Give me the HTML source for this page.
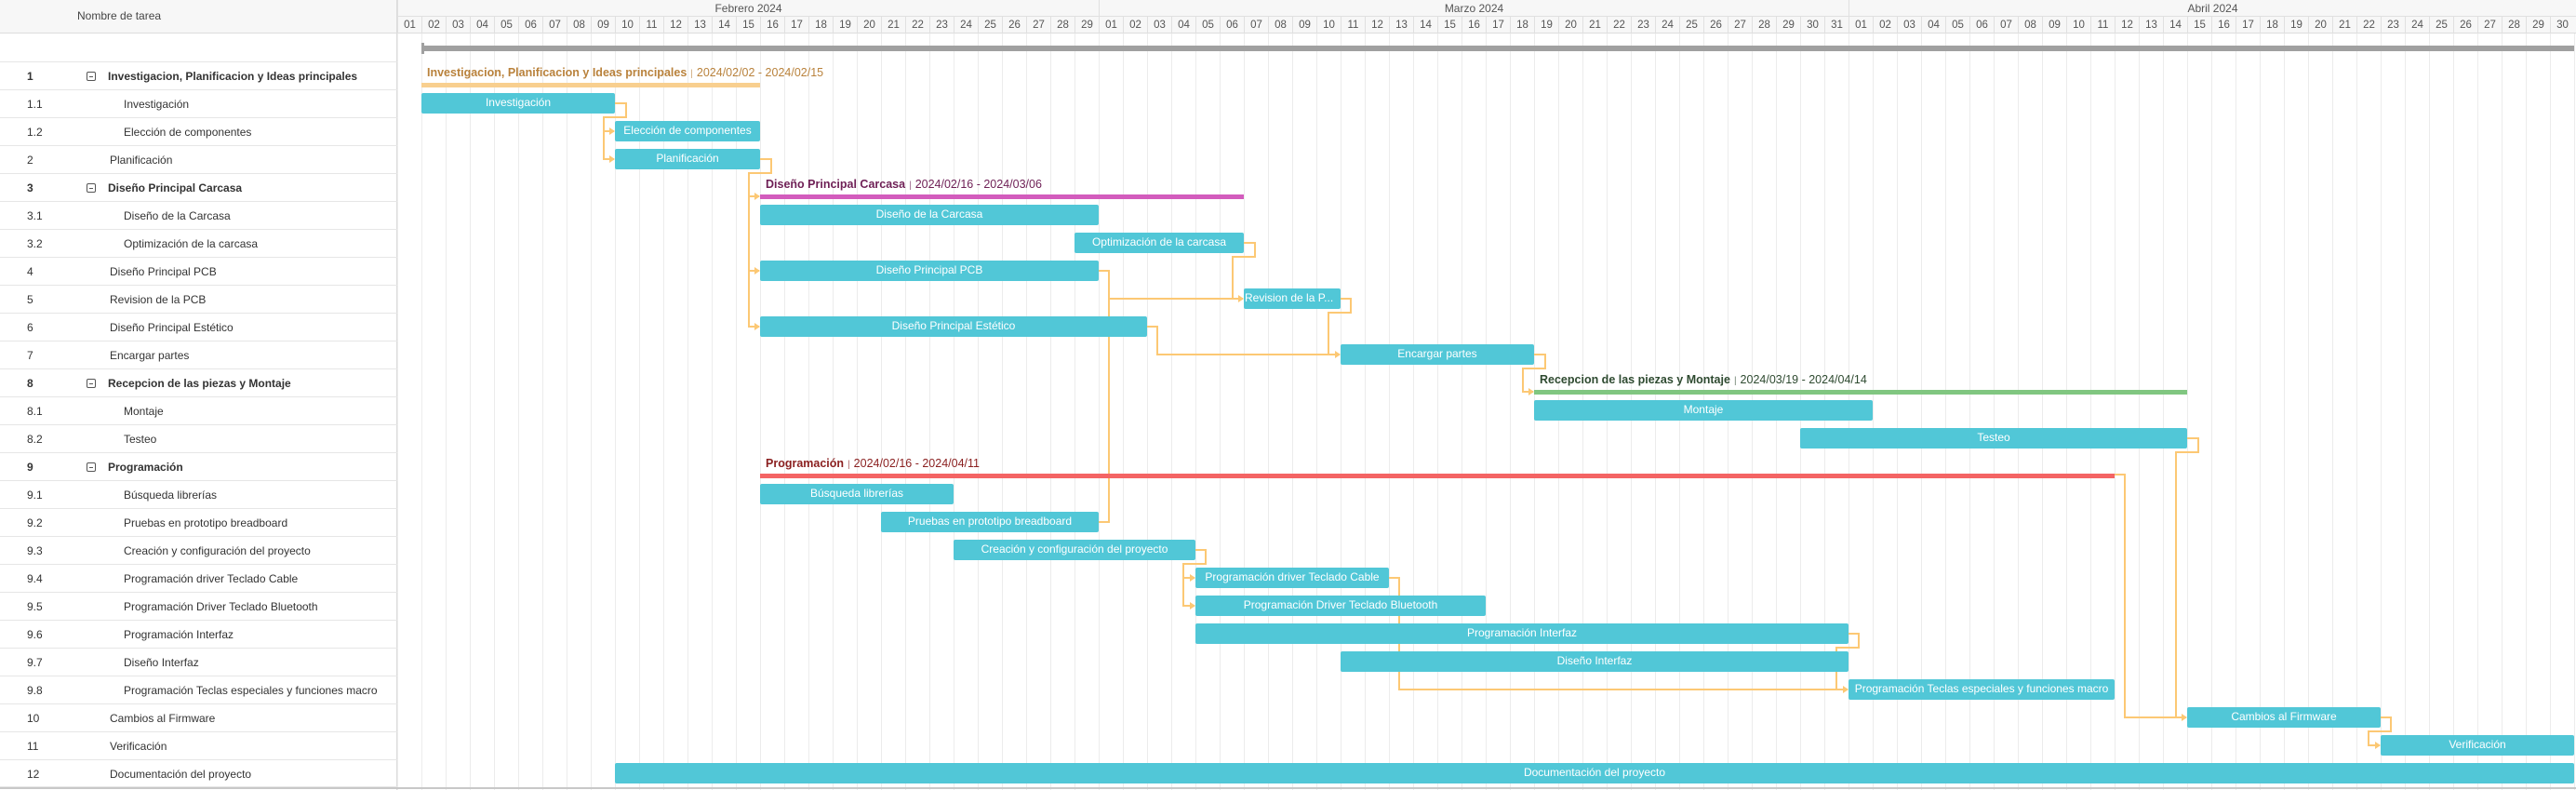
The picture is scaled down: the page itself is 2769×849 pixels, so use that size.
<!DOCTYPE html>
<html><head><meta charset="utf-8">
<style>
*{margin:0;padding:0;box-sizing:border-box}
body{width:2769px;height:849px;overflow:hidden;background:#fff;font-family:"Liberation Sans",Arial,sans-serif;position:relative}
.lp{position:absolute;left:0;top:0;width:427px;height:849px;border-right:1px solid #dcdcdc;background:#fff}
.hdr{position:absolute;left:0;top:0;width:2769px;height:36px;background:#f7f7f7;border-bottom:1px solid #dcdcdc}
.hl{position:absolute;left:83px;top:10px;font-size:12px;color:#444}
.row{position:absolute;left:0;width:427px;height:30px;border-top:1px solid #e6e6e6;font-size:12px;color:#333;line-height:30px}
.row .n{position:absolute;left:29px}
.row .t{position:absolute;left:118px}
.row .c{position:absolute;left:133px}
.row.g{font-weight:bold}
.row .ic{position:absolute;left:93px;top:10px;width:10px;height:10px;border:1px solid #555;border-radius:2px}
.row .ic:after{content:"";position:absolute;left:2px;top:3.5px;width:4px;height:1px;background:#555}
.chart{position:absolute;left:427px;top:36px;width:2342px;height:813px;background-image:linear-gradient(to right,#ececec 1px,transparent 1px);background-size:26px 100%}
.mo{position:absolute;top:0;height:18px;border-bottom:1px solid #e0e0e0;border-left:1px solid #e0e0e0;font-size:12px;color:#555;text-align:center;line-height:18px}
.days{position:absolute;left:427px;top:18px;height:18px;display:flex}
.days span{width:26px;height:18px;border-left:1px solid #e0e0e0;font-size:11.5px;color:#555;text-align:center;line-height:18px}
.b{position:absolute;height:22px;background:#51c7d7;border-radius:2px;color:#fff;font-size:12px;line-height:21px;text-align:center;white-space:nowrap;overflow:hidden}
.gb{position:absolute;height:5px}
.gl{position:absolute;font-size:12.5px;white-space:nowrap}
.gl b{font-weight:bold}
.gl i{font-style:normal;font-size:10px;padding:0 4px;opacity:.7}
svg{position:absolute;left:0;top:0}
</style></head><body>
<div class="hdr"></div>
<div class="chart"></div>
<div class="mo" style="left:427px;width:754px">Febrero 2024</div>
<div class="mo" style="left:1181px;width:806px">Marzo 2024</div>
<div class="mo" style="left:1987px;width:782px">Abril 2024</div>
<div class="days">
<span>01</span><span>02</span><span>03</span><span>04</span><span>05</span><span>06</span><span>07</span><span>08</span><span>09</span><span>10</span><span>11</span><span>12</span><span>13</span><span>14</span><span>15</span><span>16</span><span>17</span><span>18</span><span>19</span><span>20</span><span>21</span><span>22</span><span>23</span><span>24</span><span>25</span><span>26</span><span>27</span><span>28</span><span>29</span>
<span>01</span><span>02</span><span>03</span><span>04</span><span>05</span><span>06</span><span>07</span><span>08</span><span>09</span><span>10</span><span>11</span><span>12</span><span>13</span><span>14</span><span>15</span><span>16</span><span>17</span><span>18</span><span>19</span><span>20</span><span>21</span><span>22</span><span>23</span><span>24</span><span>25</span><span>26</span><span>27</span><span>28</span><span>29</span><span>30</span><span>31</span>
<span>01</span><span>02</span><span>03</span><span>04</span><span>05</span><span>06</span><span>07</span><span>08</span><span>09</span><span>10</span><span>11</span><span>12</span><span>13</span><span>14</span><span>15</span><span>16</span><span>17</span><span>18</span><span>19</span><span>20</span><span>21</span><span>22</span><span>23</span><span>24</span><span>25</span><span>26</span><span>27</span><span>28</span><span>29</span><span>30</span>
</div>

<div class="lp" style="top:36px;height:813px;background:transparent"></div>
<div style="position:absolute;left:0;top:0;width:427px;height:36px;background:#f7f7f7;border-bottom:1px solid #dcdcdc;border-right:1px solid #dcdcdc"></div>
<div class="hl">Nombre de tarea</div>

<div class="row g" style="top:66px"><span class="n">1</span><span class="ic"></span><span class="t" style="left:116px">Investigacion, Planificacion y Ideas principales</span></div>
<div class="row" style="top:96px"><span class="n">1.1</span><span class="c">Investigación</span></div>
<div class="row" style="top:126px"><span class="n">1.2</span><span class="c">Elección de componentes</span></div>
<div class="row" style="top:156px"><span class="n">2</span><span class="t">Planificación</span></div>
<div class="row g" style="top:186px"><span class="n">3</span><span class="ic"></span><span class="t" style="left:116px">Diseño Principal Carcasa</span></div>
<div class="row" style="top:216px"><span class="n">3.1</span><span class="c">Diseño de la Carcasa</span></div>
<div class="row" style="top:246px"><span class="n">3.2</span><span class="c">Optimización de la carcasa</span></div>
<div class="row" style="top:276px"><span class="n">4</span><span class="t">Diseño Principal PCB</span></div>
<div class="row" style="top:306px"><span class="n">5</span><span class="t">Revision de la PCB</span></div>
<div class="row" style="top:336px"><span class="n">6</span><span class="t">Diseño Principal Estético</span></div>
<div class="row" style="top:366px"><span class="n">7</span><span class="t">Encargar partes</span></div>
<div class="row g" style="top:396px"><span class="n">8</span><span class="ic"></span><span class="t" style="left:116px">Recepcion de las piezas y Montaje</span></div>
<div class="row" style="top:426px"><span class="n">8.1</span><span class="c">Montaje</span></div>
<div class="row" style="top:456px"><span class="n">8.2</span><span class="c">Testeo</span></div>
<div class="row g" style="top:486px"><span class="n">9</span><span class="ic"></span><span class="t" style="left:116px">Programación</span></div>
<div class="row" style="top:516px"><span class="n">9.1</span><span class="c">Búsqueda librerías</span></div>
<div class="row" style="top:546px"><span class="n">9.2</span><span class="c">Pruebas en prototipo breadboard</span></div>
<div class="row" style="top:576px"><span class="n">9.3</span><span class="c">Creación y configuración del proyecto</span></div>
<div class="row" style="top:606px"><span class="n">9.4</span><span class="c">Programación driver Teclado Cable</span></div>
<div class="row" style="top:636px"><span class="n">9.5</span><span class="c">Programación Driver Teclado Bluetooth</span></div>
<div class="row" style="top:666px"><span class="n">9.6</span><span class="c">Programación Interfaz</span></div>
<div class="row" style="top:696px"><span class="n">9.7</span><span class="c">Diseño Interfaz</span></div>
<div class="row" style="top:726px"><span class="n">9.8</span><span class="c">Programación Teclas especiales y funciones macro</span></div>
<div class="row" style="top:756px"><span class="n">10</span><span class="t">Cambios al Firmware</span></div>
<div class="row" style="top:786px"><span class="n">11</span><span class="t">Verificación</span></div>
<div class="row" style="top:816px;border-bottom:1px solid #e6e6e6"><span class="n">12</span><span class="t">Documentación del proyecto</span></div>

<svg width="2769" height="849">
<rect x="453" y="49" width="2314" height="6" fill="#a0a0a0"/>
<rect x="453" y="46" width="3" height="12" fill="#a0a0a0"/>
<g fill="none" stroke="#fcc874" stroke-width="2">
<path d="M661 111H673V126H649V141H660"/><path d="M649 141V171H660"/>
<path d="M817 171H829V186H805V351H816"/><path d="M805 211H816"/><path d="M805 291H816"/>
<path d="M1337 261H1349V276H1325V321H1336"/>
<path d="M1181 291H1192V321H1336"/><path d="M1181 561H1192V321"/>
<path d="M1441 321H1452V336H1428V381H1440"/>
<path d="M1233 351H1244V381H1440"/>
<path d="M1649 381H1661V396H1637V421H1648"/>
<path d="M2351 471H2363V486H2339V771H2350"/>
<path d="M2273 510H2284V771H2350"/>
<path d="M1285 591H1296V606H1272V651H1284"/><path d="M1272 621H1284"/>
<path d="M1493 621H1504V741H1986"/>
<path d="M1987 681H1998V696H1974V741H1986"/>
<path d="M2559 771H2570V786H2546V801H2558"/>
</g>
<g fill="#fcc874">
<polygon points="655,137 661,141 655,145"/><polygon points="655,167 661,171 655,175"/>
<polygon points="811,207 817,211 811,215"/><polygon points="811,287 817,291 811,295"/><polygon points="811,347 817,351 811,355"/>
<polygon points="1331,317 1337,321 1331,325"/>
<polygon points="1435,377 1441,381 1435,385"/>
<polygon points="1643,417 1649,421 1643,425"/>
<polygon points="2345,767 2351,771 2345,775"/>
<polygon points="1279,617 1285,621 1279,625"/><polygon points="1279,647 1285,651 1279,655"/>
<polygon points="1981,737 1987,741 1981,745"/>
<polygon points="2553,797 2559,801 2553,805"/>
</g>
<rect x="0" y="846" width="2769" height="2" fill="#c8c8c8"/>
</svg>

<div class="gl" style="left:459px;top:71px;color:#b9823c"><b>Investigacion, Planificacion y Ideas principales</b><i>|</i>2024/02/02 - 2024/02/15</div>
<div class="gb" style="left:453px;top:89px;width:364px;background:#f8cf8f"></div>
<div class="gl" style="left:823px;top:191px;color:#6e1f55"><b>Diseño Principal Carcasa</b><i>|</i>2024/02/16 - 2024/03/06</div>
<div class="gb" style="left:817px;top:209px;width:520px;background:#d35cbd"></div>
<div class="gl" style="left:1655px;top:401px;color:#2e4a30"><b>Recepcion de las piezas y Montaje</b><i>|</i>2024/03/19 - 2024/04/14</div>
<div class="gb" style="left:1649px;top:419px;width:702px;background:#80c680"></div>
<div class="gl" style="left:823px;top:491px;color:#8a1f1f"><b>Programación</b><i>|</i>2024/02/16 - 2024/04/11</div>
<div class="gb" style="left:817px;top:509px;width:1456px;background:#f46464"></div>

<div class="b" style="left:453px;top:100px;width:208px">Investigación</div>
<div class="b" style="left:661px;top:130px;width:156px">Elección de componentes</div>
<div class="b" style="left:661px;top:160px;width:156px">Planificación</div>
<div class="b" style="left:817px;top:220px;width:364px">Diseño de la Carcasa</div>
<div class="b" style="left:1155px;top:250px;width:182px">Optimización de la carcasa</div>
<div class="b" style="left:817px;top:280px;width:364px">Diseño Principal PCB</div>
<div class="b" style="left:1337px;top:310px;width:104px;text-align:left;padding-left:1px">Revision de la P...</div>
<div class="b" style="left:817px;top:340px;width:416px">Diseño Principal Estético</div>
<div class="b" style="left:1441px;top:370px;width:208px">Encargar partes</div>
<div class="b" style="left:1649px;top:430px;width:364px">Montaje</div>
<div class="b" style="left:1935px;top:460px;width:416px">Testeo</div>
<div class="b" style="left:817px;top:520px;width:208px">Búsqueda librerías</div>
<div class="b" style="left:947px;top:550px;width:234px">Pruebas en prototipo breadboard</div>
<div class="b" style="left:1025px;top:580px;width:260px">Creación y configuración del proyecto</div>
<div class="b" style="left:1285px;top:610px;width:208px">Programación driver Teclado Cable</div>
<div class="b" style="left:1285px;top:640px;width:312px">Programación Driver Teclado Bluetooth</div>
<div class="b" style="left:1285px;top:670px;width:702px">Programación Interfaz</div>
<div class="b" style="left:1441px;top:700px;width:546px">Diseño Interfaz</div>
<div class="b" style="left:1987px;top:730px;width:286px">Programación Teclas especiales y funciones macro</div>
<div class="b" style="left:2351px;top:760px;width:208px">Cambios al Firmware</div>
<div class="b" style="left:2559px;top:790px;width:208px">Verificación</div>
<div class="b" style="left:661px;top:820px;width:2106px">Documentación del proyecto</div>
</body></html>
